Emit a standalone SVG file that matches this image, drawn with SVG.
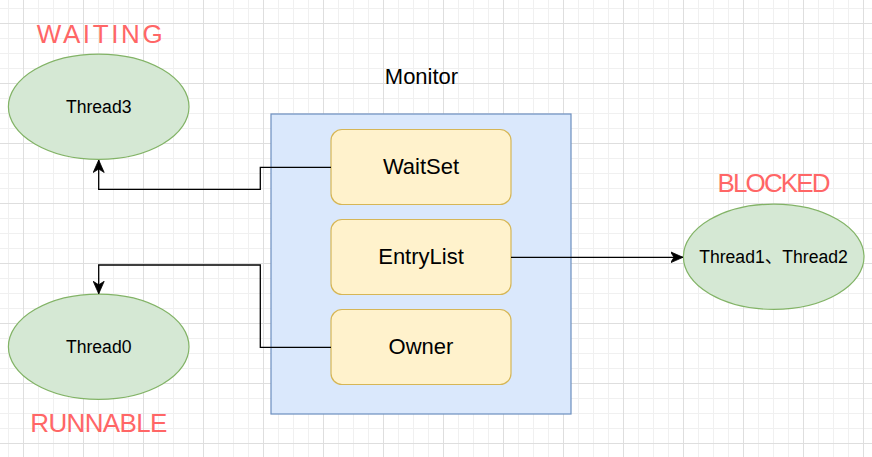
<svg xmlns="http://www.w3.org/2000/svg" width="872" height="457" viewBox="0 0 872 457">
  <style>
    .ell { fill: #d5e8d4; stroke: #82b366; stroke-width: 1.2; }
    .box { fill: #fff2cc; stroke: #d6b656; stroke-width: 1.2; }
    .mon { fill: #dae8fc; stroke: #6c8ebf; stroke-width: 1.2; }
    .t { font-family: "Liberation Sans", Arial, "Noto Sans CJK SC", sans-serif; fill: #000; text-anchor: middle; }
    .tn { font-size: 17.6px; }
    .tb { font-size: 22px; }
    .state { font-family: "Comic Sans MS", "Liberation Sans", sans-serif; font-size: 26px; fill: #ff6666; text-anchor: middle; }
    .edge { fill: none; stroke: #000; stroke-width: 1.3; }
  </style>
  <defs>
    <pattern id="grid" patternUnits="userSpaceOnUse" x="23" y="23" width="60" height="60">
      <path d="M15.5 0V60M30.5 0V60M45.5 0V60M0 15.5H60M0 30.5H60M0 45.5H60" stroke="#f0f0f0" stroke-width="1" fill="none"/>
      <path d="M0.5 0V60M0 0.5H60" stroke="#dedede" stroke-width="1" fill="none"/>
    </pattern>
    <marker id="arr" markerUnits="userSpaceOnUse" viewBox="0 0 13 12" refX="12.5" refY="6" markerWidth="13" markerHeight="12" orient="auto">
      <path d="M12.5 6L0 0.5L3.5 6L0 11.5Z" fill="#000" stroke="#000" stroke-width="0.8"/>
    </marker>
  </defs>
  <rect width="872" height="457" fill="#ffffff"/>
  <rect width="872" height="457" fill="url(#grid)"/>

  <g id="monitor">
    <rect class="mon" x="271" y="114" width="300" height="300"/>
    <text class="t tb" x="421.5" y="84">Monitor</text>
  </g>
  <g id="waitset">
    <rect class="box" x="331" y="129.5" width="180" height="75" rx="11"/>
    <text class="t tb" x="421" y="174.3">WaitSet</text>
  </g>
  <g id="entrylist">
    <rect class="box" x="331" y="219.5" width="180" height="75" rx="11"/>
    <text class="t tb" x="421" y="264.3">EntryList</text>
  </g>
  <g id="owner">
    <rect class="box" x="331" y="309.5" width="180" height="75" rx="11"/>
    <text class="t tb" x="421" y="354.3">Owner</text>
  </g>

  <g id="thread3">
    <ellipse class="ell" cx="98.7" cy="106.7" rx="90.3" ry="52.6"/>
    <text class="t tn" x="98.7" y="112.8">Thread3</text>
    <text class="state" x="99.7" y="42.7" textLength="126">WAITING</text>
  </g>
  <g id="thread0">
    <ellipse class="ell" cx="98.7" cy="346.8" rx="90.3" ry="52.6"/>
    <text class="t tn" x="98.7" y="352.9">Thread0</text>
    <text class="state" x="98.8" y="431.7" textLength="137">RUNNABLE</text>
  </g>
  <g id="blocked">
    <ellipse class="ell" cx="773.7" cy="256.8" rx="90.3" ry="52.6"/>
    <text class="t tn" x="773.5" y="262.9">Thread1、Thread2</text>
    <text class="state" x="774" y="192.3" textLength="113">BLOCKED</text>
  </g>

  <g id="connectors">
    <path class="edge" d="M331 167.3H260.3V189.3H98.7V160" marker-end="url(#arr)"/>
    <path class="edge" d="M331 347.3H260.3V265H98.7V293.8" marker-end="url(#arr)"/>
    <path class="edge" d="M511 257.3H683" marker-end="url(#arr)"/>
  </g>
</svg>
